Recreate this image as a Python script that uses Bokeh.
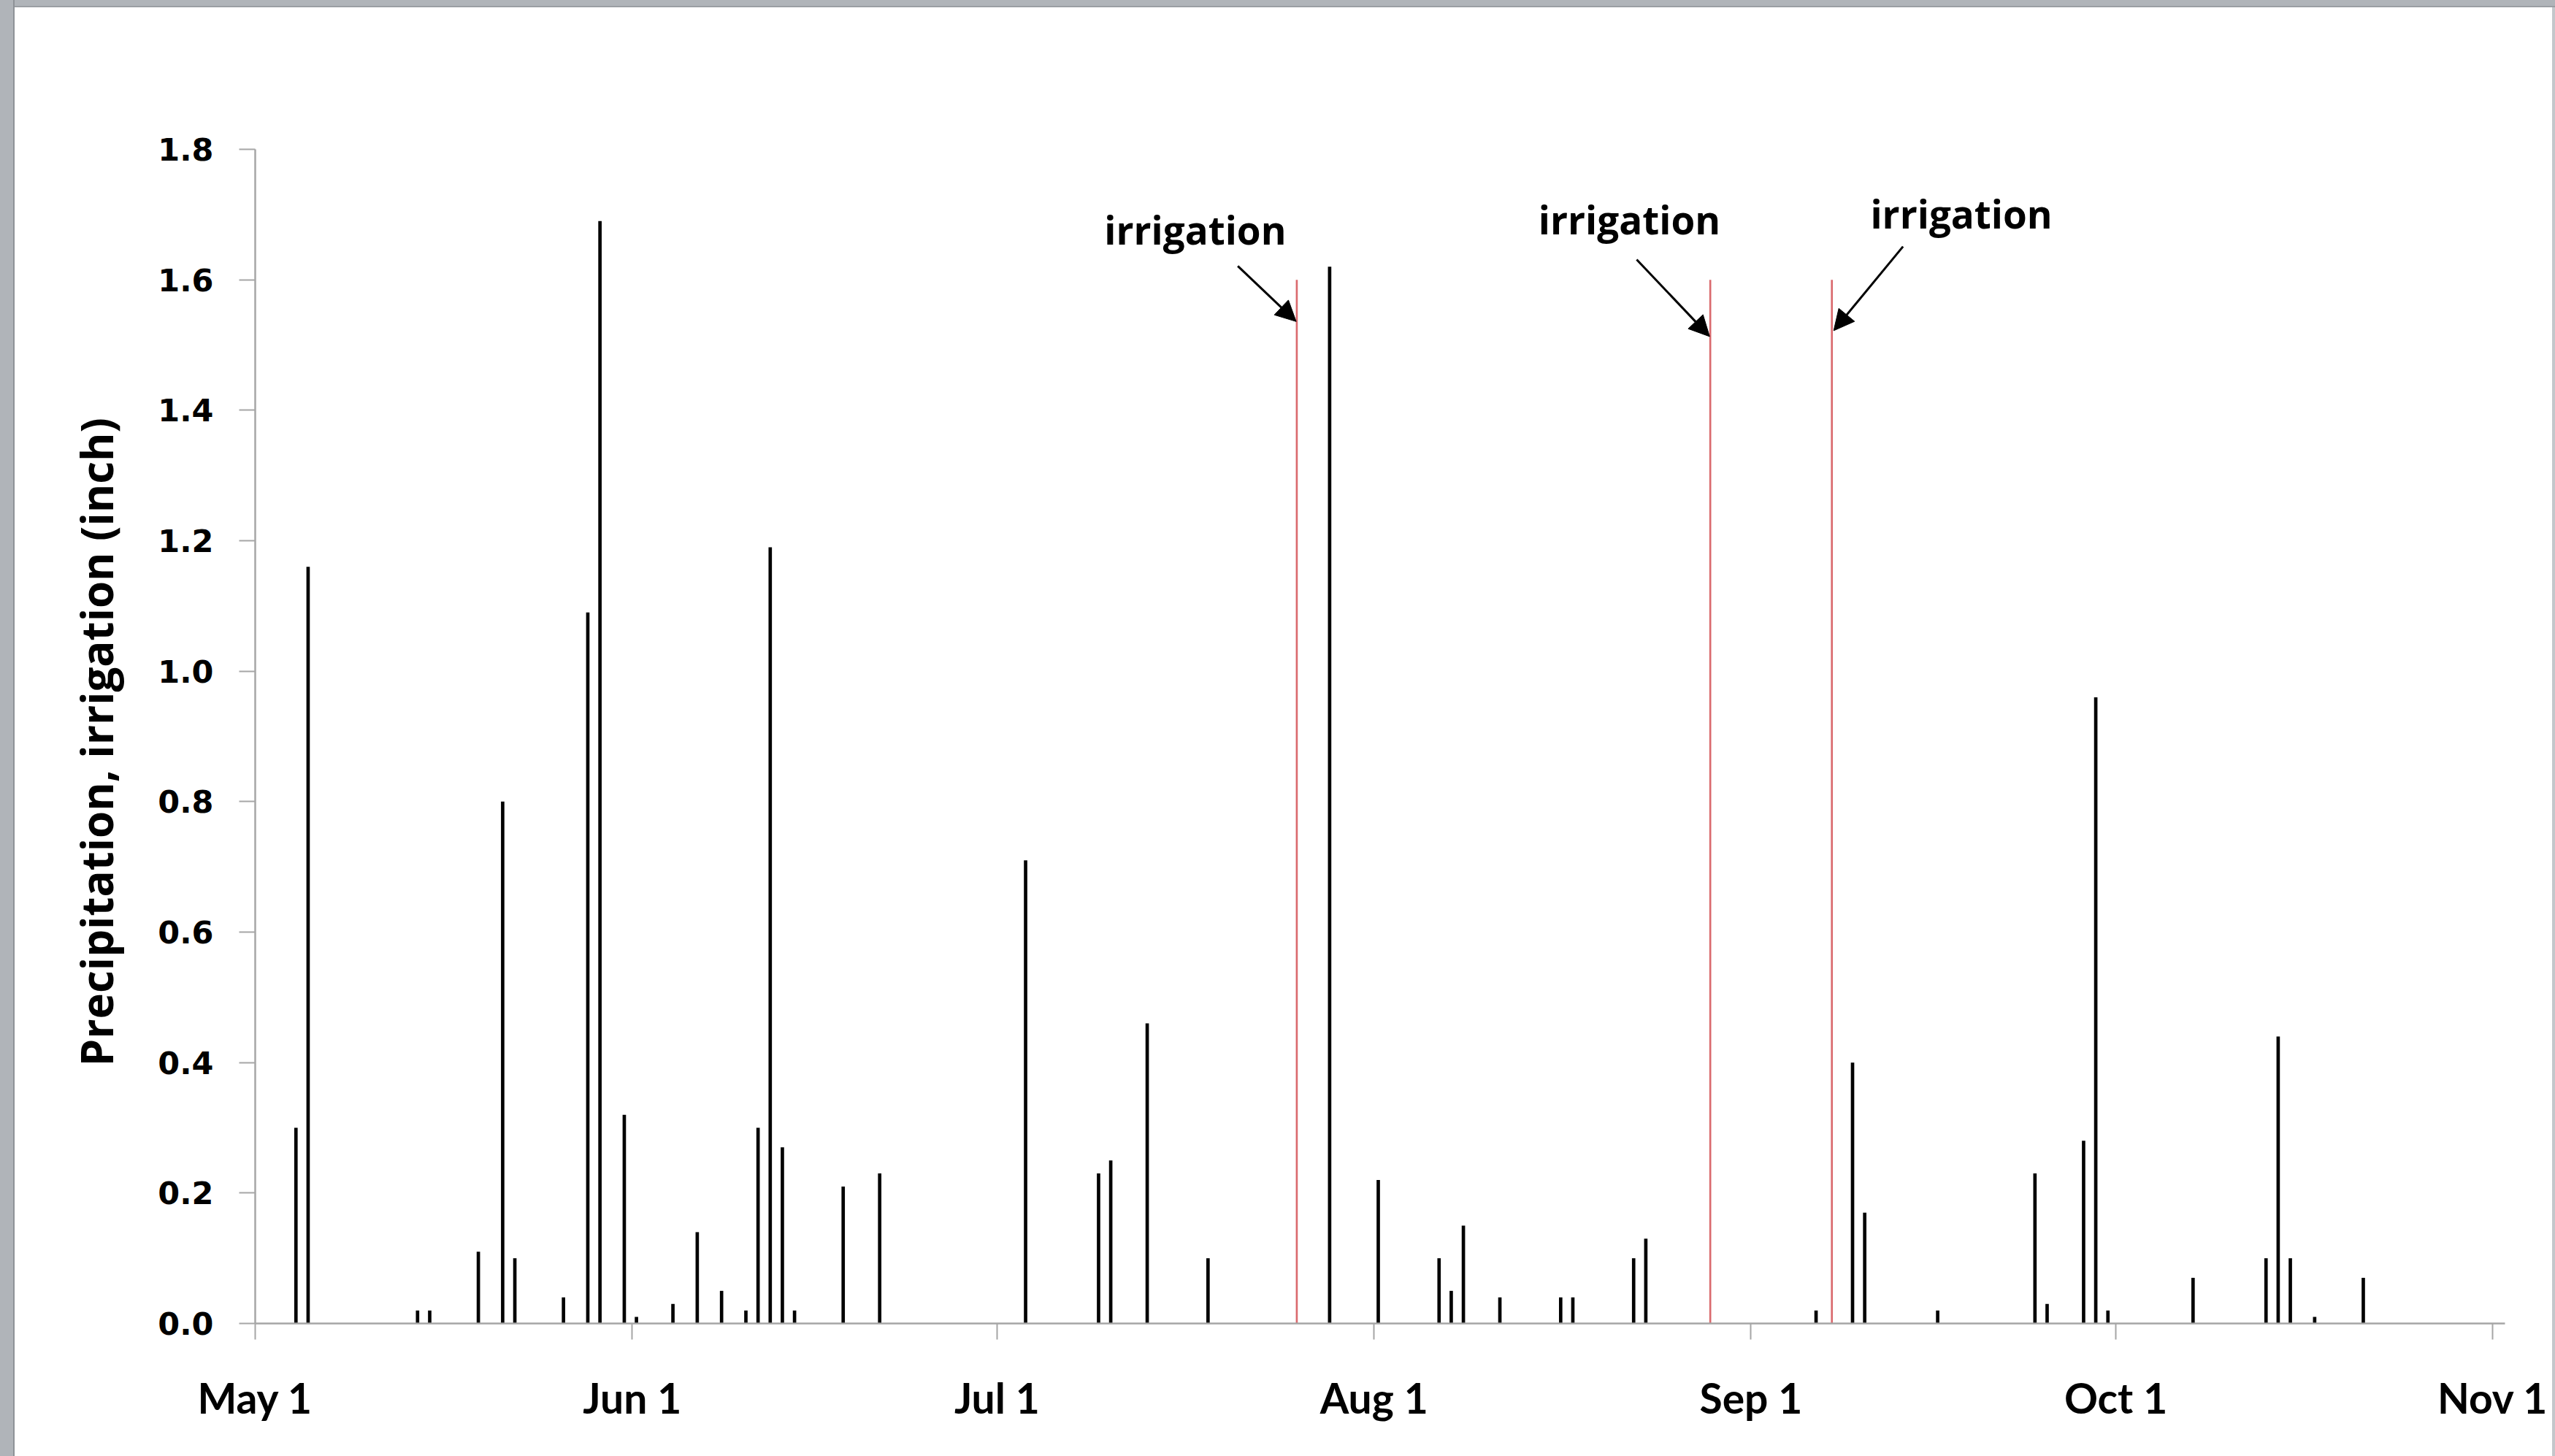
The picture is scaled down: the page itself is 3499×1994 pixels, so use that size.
import pandas as pd
from bokeh.plotting import figure
from bokeh.models import (Range1d, FixedTicker, NumeralTickFormatter, Arrow, NormalHead,
                          ColumnDataSource, Label, Div)
from bokeh.transform import dodge
from bokeh.layouts import row, column
from bokeh.embed import file_html
from bokeh.resources import INLINE

# ---------------- data ----------------
season_start = "2012-05-01"

precip_dates = [
    "2012-05-04", "2012-05-05", "2012-05-14", "2012-05-15", "2012-05-19", "2012-05-21",
    "2012-05-22", "2012-05-26", "2012-05-28", "2012-05-29", "2012-05-31", "2012-06-01",
    "2012-06-04", "2012-06-06", "2012-06-08", "2012-06-10", "2012-06-11", "2012-06-12",
    "2012-06-13", "2012-06-14", "2012-06-18", "2012-06-21", "2012-07-03", "2012-07-09",
    "2012-07-10", "2012-07-13", "2012-07-18", "2012-07-28", "2012-08-01", "2012-08-06",
    "2012-08-07", "2012-08-08", "2012-08-11", "2012-08-16", "2012-08-17", "2012-08-22",
    "2012-08-23", "2012-09-06", "2012-09-09", "2012-09-10", "2012-09-16", "2012-09-24",
    "2012-09-25", "2012-09-28", "2012-09-29", "2012-09-30", "2012-10-07", "2012-10-13",
    "2012-10-14", "2012-10-15", "2012-10-17", "2012-10-21",
]
precip_inch = [
    0.30, 1.16, 0.02, 0.02, 0.11, 0.80,
    0.10, 0.04, 1.09, 1.69, 0.32, 0.01,
    0.03, 0.14, 0.05, 0.02, 0.30, 1.19,
    0.27, 0.02, 0.21, 0.23, 0.71, 0.23,
    0.25, 0.46, 0.10, 1.62, 0.22, 0.10,
    0.05, 0.15, 0.04, 0.04, 0.04, 0.10,
    0.13, 0.02, 0.40, 0.17, 0.02, 0.23,
    0.03, 0.28, 0.96, 0.02, 0.07, 0.10,
    0.44, 0.10, 0.01, 0.07,
]

irrigation_dates = ["2012-07-25", "2012-08-28", "2012-09-07"]
irrigation_inch = [1.6, 1.6, 1.6]

month_starts = ["2012-05-01", "2012-06-01", "2012-07-01", "2012-08-01",
                "2012-09-01", "2012-10-01", "2012-11-01"]
month_labels = ["May 1", "Jun 1", "Jul 1", "Aug 1", "Sep 1", "Oct 1", "Nov 1"]

y_ticks = [0.0, 0.2, 0.4, 0.6, 0.8, 1.0, 1.2, 1.4, 1.6, 1.8]

# annotation anchors (day offset from May 1, value in inch)
note_text = ["irrigation", "irrigation", "irrigation"]
note_x = [77.3, 113.0, 140.3]
note_y = [1.677, 1.692, 1.701]
arrow_x0 = [80.8, 113.6, 135.5]
arrow_y0 = [1.621, 1.631, 1.651]
arrow_x1 = [85.6, 119.6, 129.8]
arrow_y1 = [1.536, 1.513, 1.522]

# ---------------- helpers ----------------
t0 = pd.Timestamp(season_start)


def day_slot(dates):
    # centre of each day's slot on a day axis starting May 1
    return [(pd.Timestamp(d) - t0).days + 0.5 for d in dates]


month_ticks = [(pd.Timestamp(d) - t0).days for d in month_starts]

precip_src = ColumnDataSource(dict(x=day_slot(precip_dates), v=precip_inch))
irr_src = ColumnDataSource(dict(x=day_slot(irrigation_dates), v=irrigation_inch))

# ---------------- figure ----------------
W, H = 3475, 1984
p = figure(width=W, height=H, output_backend="svg", toolbar_location=None,
           x_range=Range1d(0, 185), y_range=Range1d(0, 1.8),
           min_border_left=329, min_border_right=65,
           min_border_top=194, min_border_bottom=182,
           background_fill_color="white", border_fill_color="white")
p.outline_line_color = None
p.xgrid.visible = False
p.ygrid.visible = False

p.vbar(x=dodge("x", -0.15, range=p.x_range), top="v", bottom=0, width=0.28,
       source=precip_src, fill_color="#000000", line_color=None)
p.vbar(x=dodge("x", 0.15, range=p.x_range), top="v", bottom=0, width=0.16,
       source=irr_src, fill_color="#DA6A6E", line_color=None)

for tx, ty, t in zip(note_x, note_y, note_text):
    p.add_layout(Label(x=tx, y=ty, text=t, text_align="center", text_baseline="alphabetic",
                       text_font="Open Sans", text_font_style="bold", text_font_size="53px",
                       text_color="#000000"))

for xs, ys, xe, ye in zip(arrow_x0, arrow_y0, arrow_x1, arrow_y1):
    p.add_layout(Arrow(end=NormalHead(size=28, fill_color="black", line_color="black"),
                       x_start=xs, y_start=ys, x_end=xe, y_end=ye,
                       line_color="black", line_width=3))

axis_gray = "#A6A6A6"
for ax in (p.xaxis[0], p.yaxis[0]):
    ax.axis_line_color = axis_gray
    ax.axis_line_width = 2.5
    ax.major_tick_line_color = axis_gray
    ax.major_tick_line_width = 2
    ax.major_tick_in = 0
    ax.major_tick_out = 22
    ax.minor_tick_line_color = None
    ax.major_label_text_color = "#000000"

p.xaxis.ticker = FixedTicker(ticks=month_ticks)
p.xaxis.major_label_overrides = {t: lab for t, lab in zip(month_ticks, month_labels)}
p.xaxis.major_label_text_font = "Lato"
p.xaxis.major_label_text_font_style = "bold"
p.xaxis.major_label_text_font_size = "57px"
p.xaxis.major_label_standoff = 45

p.yaxis.ticker = FixedTicker(ticks=y_ticks)
p.yaxis.formatter = NumeralTickFormatter(format="0.0")
p.yaxis.major_label_text_font = "DejaVu Sans"
p.yaxis.major_label_text_font_style = "bold"
p.yaxis.major_label_text_font_size = "43px"
p.yaxis.major_label_standoff = 35
p.yaxis.axis_label = "Precipitation, irrigation  (inch)"
p.yaxis.axis_label_text_font = "Open Sans"
p.yaxis.axis_label_text_font_style = "bold"
p.yaxis.axis_label_text_font_size = "60px"
p.yaxis.axis_label_text_color = "#000000"
p.yaxis.axis_label_standoff = 40

# window frame of the screenshot
frame_gray = "#B0B4B9"
left_bar = Div(text="", width=20, height=1994, margin=0,
               styles={"background-color": frame_gray, "border-right": "2px solid #8E9297",
                       "box-sizing": "border-box"})
top_bar = Div(text="", width=3479, height=10, margin=0,
              styles={"background-color": frame_gray, "border-bottom": "2px solid #9A9EA3",
                      "box-sizing": "border-box"})
right_bar = Div(text="", width=4, height=1984, margin=0,
                styles={"background-color": "#C4C7CB"})

layout = row(left_bar, column(top_bar, row(p, right_bar, spacing=0), spacing=0), spacing=0)

open("out.html", "w").write(file_html(layout, INLINE))
